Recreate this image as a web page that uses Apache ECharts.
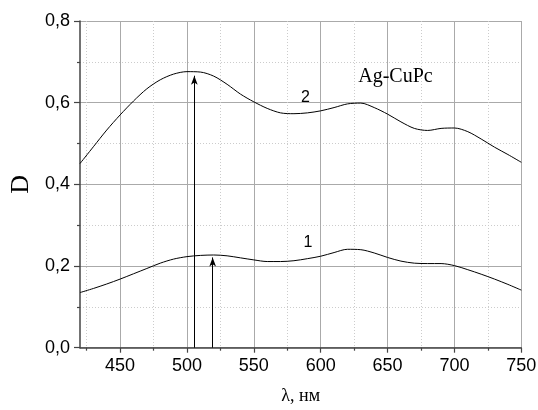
<!DOCTYPE html>
<html><head><meta charset="utf-8">
<script src="https://cdn.jsdelivr.net/npm/echarts@6/dist/echarts.min.js"></script>
<style>html,body{margin:0;padding:0;background:#fff}#c{width:538px;height:410px}</style>
</head><body><div id="c"></div>
<script>
// Wavelengths (nm)
var lambda = [420,430,440,450,460,470,480,490,500,510,520,530,540,550,560,570,580,590,600,610,620,630,640,650,660,670,680,690,700,710,720,730,740,750];
// Curve 2 (upper)
var D2 = [0.451,0.492,0.533,0.570,0.604,0.634,0.656,0.670,0.676,0.675,0.665,0.645,0.621,0.602,0.586,0.575,0.573,0.575,0.580,0.588,0.597,0.599,0.588,0.572,0.553,0.537,0.532,0.537,0.538,0.529,0.511,0.491,0.473,0.454];
// Curve 1 (lower)
var D1 = [0.135,0.145,0.156,0.168,0.181,0.194,0.207,0.217,0.223,0.226,0.227,0.225,0.220,0.215,0.211,0.211,0.213,0.218,0.224,0.233,0.241,0.240,0.232,0.221,0.212,0.207,0.206,0.206,0.201,0.191,0.180,0.168,0.155,0.141];
// Arrows [lambda, D at tip]
var arrows = [[505.5, 0.666], [519.2, 0.221]];
// Tick values
var xMajor = [450,500,550,600,650,700,750];
var xMinor = [425,475,525,575,625,675,725];
// Annotations
var label2 = {text:'2', x:588.5, y:0.612};
var label1 = {text:'1', x:590.5, y:0.258};
var sample = {text:'Ag-CuPc', x:655.9, y:0.663};

function zip(a,b){return a.map(function(v,i){return [v,b[i]];});}
var chart = echarts.init(document.getElementById('c'));
var sans = 'Liberation Sans, Arial, sans-serif';
var serif = 'Liberation Serif, Times New Roman, serif';
function txtPoint(l, font, size){
  return {coord:[l.x,l.y], value:l.text, symbol:'rect', symbolSize:0,
    label:{show:true, position:'inside', formatter:l.text, fontFamily:font, fontSize:size, color:'#000'}};
}
chart.setOption({
  animation:false,
  grid:{left:80, right:16.7, top:21, bottom:62.3, containLabel:false, outerBoundsMode:'none'},
  xAxis:[{
    type:'value', min:420, max:750,
    axisLine:{show:true, lineStyle:{color:'#444', width:1.5}},
    axisTick:{show:true, customValues:xMajor, length:5, lineStyle:{color:'#444', width:1.2}},
    axisLabel:{show:true, customValues:xMajor, margin:9, fontFamily:sans, fontSize:18, color:'#000'},
    splitLine:{show:true, lineStyle:{color:'#aaa', width:1}},
    name:'λ, нм', nameLocation:'middle', nameGap:40,
    nameTextStyle:{fontFamily:serif, fontSize:18, color:'#000'}
  },{
    type:'value', min:420, max:750, position:'bottom',
    axisLine:{show:false},
    axisTick:{show:true, customValues:xMinor, length:3, lineStyle:{color:'#444', width:1.2}},
    axisLabel:{show:false},
    splitLine:{show:true, lineStyle:{color:'#ccc', width:1, type:[1,2]}}
  }],
  yAxis:{
    type:'value', min:0, max:0.8, interval:0.2,
    axisLine:{show:true, lineStyle:{color:'#444', width:1.5}},
    axisTick:{show:true, length:6, lineStyle:{color:'#444', width:1.2}},
    minorTick:{show:true, splitNumber:2, length:3, lineStyle:{color:'#444', width:1.2}},
    minorSplitLine:{show:true, lineStyle:{color:'#ccc', width:1, type:[1,2]}},
    splitLine:{show:true, lineStyle:{color:'#aaa', width:1}},
    axisLabel:{margin:10, fontFamily:sans, fontSize:18, color:'#000',
      formatter:function(v){return v.toFixed(1).replace('.',',');}},
    name:'D', nameLocation:'middle', nameGap:44, nameRotate:90,
    nameTextStyle:{fontFamily:serif, fontSize:26, color:'#000'}
  },
  series:[
    {type:'line', data:zip(lambda,D2), smooth:0.3, symbol:'none', lineStyle:{color:'#000', width:1}, z:5,
     markPoint:{silent:true, data:[txtPoint(label2, sans, 16), txtPoint(sample, serif, 20)]}},
    {type:'line', data:zip(lambda,D1), smooth:0.3, symbol:'none', lineStyle:{color:'#000', width:1}, z:5,
     markPoint:{silent:true, data:[txtPoint(label1, sans, 16)]}},
    {type:'line', data:[], symbol:'none',
     markLine:{silent:true, symbol:['none','arrow'], symbolSize:[5,9], label:{show:false},
       lineStyle:{color:'#000', width:1, type:'solid'},
       data:arrows.map(function(a){return [{coord:[a[0],0]},{coord:[a[0],a[1]]}];})}}
  ]
});
</script></body></html>
